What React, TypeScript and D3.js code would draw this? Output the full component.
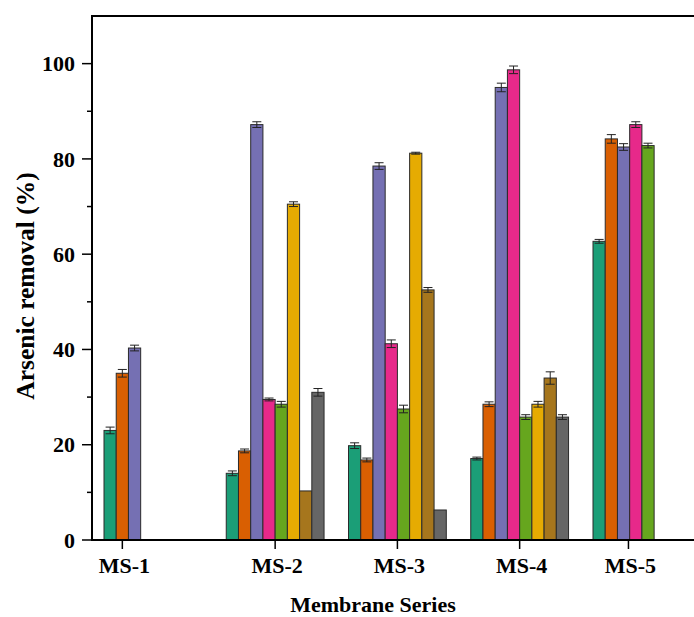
import React from "react";
import * as d3 from "d3";

// Membrane series on the category axis
const categories = ["MS-1", "MS-2", "MS-3", "MS-4", "MS-5"];
// Position of each category label along the slot axis
const categoryTickSlot = [1.5, 14, 24, 34, 42.9];
// First bar slot of each group
const groupStartSlot = [0, 10, 20, 30, 40];

// Arsenic removal (%) per membrane, in series order
const ms1 = [23.0, 35.0, 40.3];
const ms2 = [14.0, 18.7, 87.2, 29.5, 28.5, 70.5, 10.3, 31.0];
const ms3 = [19.8, 16.8, 78.5, 41.2, 27.5, 81.2, 52.5, 6.3];
const ms4 = [17.1, 28.5, 95.0, 98.7, 25.8, 28.5, 34.0, 25.8];
const ms5 = [62.7, 84.2, 82.5, 87.2, 82.8];

// Standard deviations
const ms1Err = [0.7, 0.8, 0.6];
const ms2Err = [0.5, 0.4, 0.6, 0.3, 0.6, 0.5, 0.0, 0.8];
const ms3Err = [0.6, 0.4, 0.7, 0.8, 0.8, 0.2, 0.5, 0.0];
const ms4Err = [0.3, 0.5, 0.9, 0.8, 0.5, 0.6, 1.3, 0.5];
const ms5Err = [0.4, 0.9, 0.7, 0.6, 0.5];

const yTicks = [0, 20, 40, 60, 80, 100];
const yMinorTicks = [10, 30, 50, 70, 90];

const values = [ms1, ms2, ms3, ms4, ms5];
const errors = [ms1Err, ms2Err, ms3Err, ms4Err, ms5Err];

const W = 694;
const H = 617;
const axisLeft = 92;
const axisRight = 694;
const axisTop = 16;
const axisBottom = 540;
const font = '"Liberation Serif", "Times New Roman", "DejaVu Serif", serif';

export default function App() {
  const x = d3.scaleLinear().domain([0, 40]).range([104, 593]);
  const y = d3.scaleLinear().domain([0, 110]).range([axisBottom, axisTop]);
  const color = d3.scaleOrdinal<number, string>().domain(d3.range(8)).range(d3.schemeDark2);
  const slotW = x(1) - x(0);
  const capHalf = 4.5;

  const bars: { gi: number; si: number; v: number; e: number }[] = [];
  values.forEach((arr, gi) =>
    arr.forEach((v, si) => bars.push({ gi, si, v, e: errors[gi][si] }))
  );

  const textStyle = { fontFamily: font, fontWeight: 700 } as React.CSSProperties;

  return (
    <svg
      width={W}
      height={H}
      style={{ position: "fixed", left: 0, top: 0, background: "#fff", fontFamily: font, fontWeight: 700 }}
    >
      {/* bars */}
      {bars.map((b, i) => {
        const x0 = x(groupStartSlot[b.gi] + b.si);
        return (
          <rect
            key={"b" + i}
            x={x0}
            y={y(b.v)}
            width={slotW}
            height={y(0) - y(b.v)}
            fill={color(b.si)}
            stroke="#2b2b2b"
            strokeWidth={1}
          />
        );
      })}
      {/* error bars */}
      {bars.map((b, i) => {
        if (b.e <= 0) return null;
        const cx = x(groupStartSlot[b.gi] + b.si + 0.5);
        const yt = y(b.v + b.e);
        const yb = y(b.v - b.e);
        return (
          <g key={"e" + i} stroke="#222" strokeWidth={1}>
            <line x1={cx} x2={cx} y1={yt} y2={yb} />
            <line x1={cx - capHalf} x2={cx + capHalf} y1={yt} y2={yt} />
            <line x1={cx - capHalf} x2={cx + capHalf} y1={yb} y2={yb} />
          </g>
        );
      })}

      {/* frame */}
      <line x1={axisLeft} x2={axisRight} y1={axisTop} y2={axisTop} stroke="#000" strokeWidth={2} />
      <line x1={axisLeft} x2={axisRight} y1={axisBottom} y2={axisBottom} stroke="#000" strokeWidth={2} />
      <line x1={axisLeft} x2={axisLeft} y1={axisTop - 1} y2={axisBottom + 1} stroke="#000" strokeWidth={2} />

      {/* y axis */}
      {yTicks.map((t) => (
        <g key={"yt" + t}>
          <line x1={axisLeft - 10} x2={axisLeft} y1={y(t)} y2={y(t)} stroke="#000" strokeWidth={1.5} />
          <text x={axisLeft - 17} y={y(t)} dy="0.35em" textAnchor="end" fontSize={22} style={textStyle}>
            {t}
          </text>
        </g>
      ))}
      {yMinorTicks.map((t) => (
        <line key={"ym" + t} x1={axisLeft - 5} x2={axisLeft} y1={y(t)} y2={y(t)} stroke="#000" strokeWidth={1.5} />
      ))}

      {/* x axis */}
      {categories.map((c, i) => {
        const cx = x(categoryTickSlot[i]);
        return (
          <g key={"xt" + c}>
            <line x1={cx} x2={cx} y1={axisBottom} y2={axisBottom + 9} stroke="#000" strokeWidth={1.5} />
            <text x={cx + 2} y={573} textAnchor="middle" fontSize={22} style={textStyle}>
              {c}
            </text>
          </g>
        );
      })}

      {/* axis titles */}
      <text
        transform={`translate(34, ${(axisTop + axisBottom) / 2 + 8}) rotate(-90)`}
        textAnchor="middle"
        fontSize={25.5}
        style={textStyle}
      >
        Arsenic removal (%)
      </text>
      <text x={373} y={612} textAnchor="middle" fontSize={22} style={textStyle}>
        Membrane Series
      </text>
    </svg>
  );
}
